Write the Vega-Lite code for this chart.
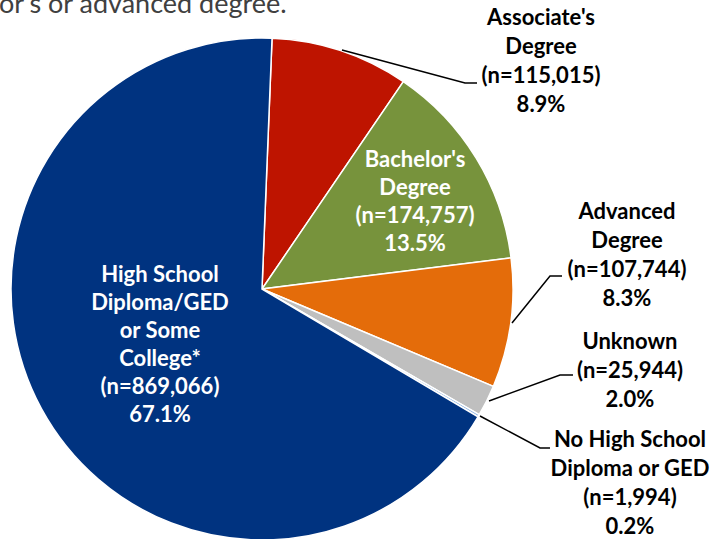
{
  "$schema": "https://vega.github.io/schema/vega-lite/v6.json",
  "width": 710,
  "height": 539,
  "autosize": "none",
  "padding": 0,
  "background": "white",
  "config": {"view": {"stroke": null}},
  "datasets": {
    "slices": [
      {"category": "Associate's Degree", "n": 115015, "seq": 1},
      {"category": "Bachelor's Degree", "n": 174757, "seq": 2},
      {"category": "Advanced Degree", "n": 107744, "seq": 3},
      {"category": "Unknown", "n": 25944, "seq": 4},
      {"category": "No High School Diploma or GED", "n": 1994, "seq": 5},
      {"category": "High School Diploma/GED or Some College*", "n": 869066, "seq": 6}
    ],
    "labels": [
      {"category": "Associate's Degree", "label": "Associate's\nDegree\n(n=115,015)\n8.9%", "placement": "outside", "lx": 1.1116, "ly": 1.0797},
      {"category": "Bachelor's Degree", "label": "Bachelor's\nDegree\n(n=174,757)\n13.5%", "placement": "inside", "lx": 0.6096, "ly": 0.5139},
      {"category": "Advanced Degree", "label": "Advanced\nDegree\n(n=107,744)\n8.3%", "placement": "outside", "lx": 1.4542, "ly": 0.3068},
      {"category": "Unknown", "label": "Unknown\n(n=25,944)\n2.0%", "placement": "outside", "lx": 1.4661, "ly": -0.2112},
      {"category": "No High School Diploma or GED", "label": "No High School\nDiploma or GED\n(n=1,994)\n0.2%", "placement": "outside", "lx": 1.4661, "ly": -0.6016},
      {"category": "High School Diploma/GED or Some College*", "label": "High School\nDiploma/GED\nor Some\nCollege*\n(n=869,066)\n67.1%", "placement": "inside", "lx": -0.4064, "ly": 0.0558}
    ],
    "leaders": [
      {"category": "Associate's Degree", "pt": 1, "lx": 0.3187, "ly": 0.9522},
      {"category": "Associate's Degree", "pt": 2, "lx": 0.8088, "ly": 0.8207},
      {"category": "Associate's Degree", "pt": 3, "lx": 0.8566, "ly": 0.8207},
      {"category": "Advanced Degree", "pt": 1, "lx": 0.996, "ly": -0.1355},
      {"category": "Advanced Degree", "pt": 2, "lx": 1.1474, "ly": 0.0518},
      {"category": "Advanced Degree", "pt": 3, "lx": 1.1952, "ly": 0.0518},
      {"category": "Unknown", "pt": 1, "lx": 0.9044, "ly": -0.4462},
      {"category": "Unknown", "pt": 2, "lx": 1.1873, "ly": -0.3426},
      {"category": "Unknown", "pt": 3, "lx": 1.239, "ly": -0.3426},
      {"category": "No High School Diploma or GED", "pt": 1, "lx": 0.8685, "ly": -0.506},
      {"category": "No High School Diploma or GED", "pt": 2, "lx": 1.1076, "ly": -0.6335},
      {"category": "No High School Diploma or GED", "pt": 3, "lx": 1.1474, "ly": -0.6335}
    ],
    "caption": [
      {"text": "or's or advanced degree.", "lx": -1.0478, "ly": 1.0996}
    ]
  },
  "layer": [
    {
      "data": {"name": "slices"},
      "mark": {"type": "arc", "outerRadius": 251, "stroke": "white", "strokeWidth": 1.5},
      "encoding": {
        "x": {"datum": 0, "type": "quantitative", "scale": {"domain": [-1.043825, 1.784861], "nice": false, "zero": false}, "axis": null},
        "y": {"datum": 0, "type": "quantitative", "scale": {"domain": [-0.996016, 1.151394], "nice": false, "zero": false}, "axis": null},
        "theta": {"field": "n", "type": "quantitative", "stack": true, "scale": {"range": [0.04, 6.3232]}},
        "order": {"field": "seq", "type": "quantitative"},
        "color": {
          "field": "category", "type": "nominal", "legend": null,
          "scale": {
            "domain": ["Associate's Degree", "Bachelor's Degree", "Advanced Degree", "Unknown", "No High School Diploma or GED", "High School Diploma/GED or Some College*"],
            "range": ["#BE1400", "#77933C", "#E46C0A", "#BFBFBF", "#8EB4E3", "#003380"]
          }
        }
      }
    },
    {
      "data": {"name": "leaders"},
      "mark": {"type": "line", "color": "black", "strokeWidth": 1.5},
      "encoding": {
        "x": {"field": "lx", "type": "quantitative", "scale": {"domain": [-1.043825, 1.784861], "nice": false, "zero": false}, "axis": null},
        "y": {"field": "ly", "type": "quantitative", "scale": {"domain": [-0.996016, 1.151394], "nice": false, "zero": false}, "axis": null},
        "detail": {"field": "category", "type": "nominal"},
        "order": {"field": "pt", "type": "quantitative"}
      }
    },
    {
      "data": {"name": "labels"},
      "transform": [{"filter": "datum.placement === 'outside'"}],
      "mark": {"type": "text", "font": "Lato", "fontWeight": "bold", "fontSize": 22, "lineHeight": 29, "lineBreak": "\n", "align": "center", "baseline": "middle", "color": "#000000"},
      "encoding": {
        "x": {"field": "lx", "type": "quantitative", "scale": {"domain": [-1.043825, 1.784861], "nice": false, "zero": false}, "axis": null},
        "y": {"field": "ly", "type": "quantitative", "scale": {"domain": [-0.996016, 1.151394], "nice": false, "zero": false}, "axis": null},
        "text": {"field": "label", "type": "nominal"}
      }
    },
    {
      "data": {"name": "labels"},
      "transform": [{"filter": "datum.placement === 'inside'"}],
      "mark": {"type": "text", "font": "Lato", "fontWeight": "bold", "fontSize": 22, "lineHeight": 28, "lineBreak": "\n", "align": "center", "baseline": "middle", "color": "#FFFFFF"},
      "encoding": {
        "x": {"field": "lx", "type": "quantitative", "scale": {"domain": [-1.043825, 1.784861], "nice": false, "zero": false}, "axis": null},
        "y": {"field": "ly", "type": "quantitative", "scale": {"domain": [-0.996016, 1.151394], "nice": false, "zero": false}, "axis": null},
        "text": {"field": "label", "type": "nominal"}
      }
    },
    {
      "data": {"name": "caption"},
      "mark": {"type": "text", "font": "Lato", "fontSize": 27, "align": "left", "baseline": "alphabetic", "color": "#404040"},
      "encoding": {
        "x": {"field": "lx", "type": "quantitative", "scale": {"domain": [-1.043825, 1.784861], "nice": false, "zero": false}, "axis": null},
        "y": {"field": "ly", "type": "quantitative", "scale": {"domain": [-0.996016, 1.151394], "nice": false, "zero": false}, "axis": null},
        "text": {"field": "text", "type": "nominal"}
      }
    }
  ]
}
